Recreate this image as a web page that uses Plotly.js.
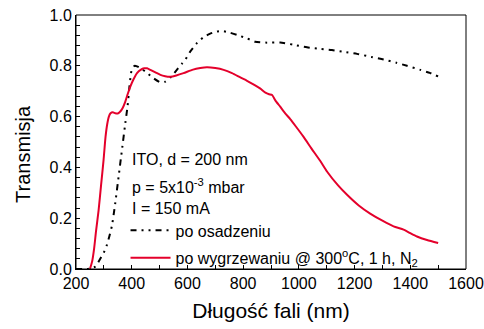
<!DOCTYPE html>
<html>
<head>
<meta charset="utf-8">
<script src="https://cdn.plot.ly/plotly-3.0.1.min.js"></script>
<style>
  html, body { margin: 0; padding: 0; background: #fff; }
  #chart { width: 484px; height: 329px; }
</style>
</head>
<body>
<div id="chart"></div>
<script>
// Transmission spectra of an ITO film (d = 200 nm)
const asDepWavelength = [200, 240, 255, 270, 287, 300, 311, 320, 329, 341, 353, 365, 377, 385, 392, 400, 410, 419, 437, 455, 480, 503, 521, 540, 562, 580, 592, 610, 634, 658, 680, 706, 724, 754, 790, 814, 843, 886, 933, 980, 1029, 1080, 1119, 1160, 1209, 1260, 1304, 1350, 1388, 1436, 1470, 1500];
const asDepTransmission = [0, 0, 0.003, 0.01, 0.04, 0.065, 0.095, 0.13, 0.17, 0.26, 0.364, 0.469, 0.574, 0.64, 0.72, 0.784, 0.80, 0.798, 0.787, 0.772, 0.75, 0.735, 0.738, 0.755, 0.784, 0.808, 0.823, 0.856, 0.889, 0.913, 0.926, 0.935, 0.937, 0.93, 0.917, 0.908, 0.895, 0.891, 0.892, 0.883, 0.873, 0.866, 0.862, 0.855, 0.847, 0.835, 0.825, 0.812, 0.80, 0.784, 0.772, 0.758];

const annealedWavelength = [250, 258, 265, 272, 281, 290, 299, 306, 312, 318, 324, 332, 341, 350, 359, 368, 377, 386, 395, 407, 419, 432, 445, 455, 467, 485, 503, 520, 539, 560, 586, 620, 646, 670, 700, 730, 760, 790, 814, 840, 862, 880, 893, 904, 915, 933, 951, 969, 990, 1017, 1045, 1077, 1101, 1140, 1173, 1215, 1256, 1300, 1340, 1376, 1400, 1424, 1460, 1500];
const annealedTransmission = [0, 0.03, 0.08, 0.15, 0.23, 0.33, 0.43, 0.52, 0.57, 0.60, 0.613, 0.617, 0.613, 0.612, 0.62, 0.635, 0.659, 0.69, 0.718, 0.748, 0.771, 0.784, 0.790, 0.790, 0.784, 0.774, 0.764, 0.759, 0.757, 0.762, 0.771, 0.785, 0.791, 0.794, 0.791, 0.784, 0.771, 0.754, 0.741, 0.725, 0.71, 0.694, 0.688, 0.685, 0.665, 0.639, 0.613, 0.59, 0.56, 0.52, 0.475, 0.425, 0.384, 0.33, 0.292, 0.25, 0.218, 0.19, 0.168, 0.155, 0.141, 0.128, 0.114, 0.102];

const seriesNames = ['po osadzeniu', 'po wygrzewaniu @ 300<sup>o</sup>C, 1 h, N<sub>2</sub>'];
const infoLines = ['ITO, d = 200 nm', 'p = 5x10<sup>-3</sup> mbar', 'I = 150 mA'];
// tick positions (every minor step) and their labels (blank between majors)
const xTickVals = [200, 300, 400, 500, 600, 700, 800, 900, 1000, 1100, 1200, 1300, 1400, 1500, 1600];
const xTickText = ['200', '', '400', '', '600', '', '800', '', '1000', '', '1200', '', '1400', '', '1600'];
const yTickVals = [0, 0.04, 0.08, 0.12, 0.16, 0.2, 0.24, 0.28, 0.32, 0.36, 0.4, 0.44, 0.48, 0.52, 0.56, 0.6, 0.64, 0.68, 0.72, 0.76, 0.8, 0.84, 0.88, 0.92, 0.96, 1.0];
const yTickText = ['0.0', '', '', '', '', '0.2', '', '', '', '', '0.4', '', '', '', '', '0.6', '', '', '', '', '0.8', '', '', '', '', '1.0'];

const FONT = 'Liberation Sans, Arial, sans-serif';

const traces = [
  {
    x: asDepWavelength, y: asDepTransmission, name: seriesNames[0],
    type: 'scatter', mode: 'lines', legendgroup: 'a',
    line: { color: '#000', width: 2, dash: '6px,5px,2px,5px,2px,5px', shape: 'spline', smoothing: 0.5 }
  },
  {
    x: annealedWavelength, y: annealedTransmission, name: seriesNames[1],
    type: 'scatter', mode: 'lines', legendgroup: 'b',
    line: { color: '#e4002b', width: 2, shape: 'spline', smoothing: 0.6 }
  }
];

const layout = {
  width: 484, height: 329,
  margin: { l: 76, r: 18, t: 15, b: 60 },
  paper_bgcolor: '#fff', plot_bgcolor: '#fff',
  font: { family: FONT, size: 16, color: '#000' },
  showlegend: true,
  legend: {
    x: 0.127, y: 0.097, xanchor: 'left', yanchor: 'middle',
    bgcolor: 'rgba(0,0,0,0)', borderwidth: 0,
    font: { family: FONT, size: 16, color: '#000' },
    traceorder: 'grouped', tracegroupgap: 3.6, itemwidth: 40
  },
  xaxis: {
    range: [200, 1600], tickmode: 'array', tickvals: xTickVals, ticktext: xTickText,
    showgrid: false, zeroline: false,
    showline: true, linecolor: 'black', linewidth: 1,
    ticks: 'inside', ticklen: 4, tickwidth: 1, tickcolor: 'black',
    tickfont: { family: FONT, size: 16, color: '#000' },
    title: { text: 'Długość fali (nm)', font: { family: FONT, size: 21, color: '#000' }, standoff: 12 }
  },
  yaxis: {
    range: [0, 1.0], tickmode: 'array', tickvals: yTickVals, ticktext: yTickText,
    showgrid: false, zeroline: false,
    showline: true, linecolor: 'black', linewidth: 1,
    ticks: 'inside', ticklen: 4, tickwidth: 1, tickcolor: 'black',
    tickfont: { family: FONT, size: 16, color: '#000' }
  },
  shapes: [
    { type: 'rect', xref: 'paper', yref: 'paper', x0: 0, x1: 1, y0: 0, y1: 1,
      line: { color: 'black', width: 1 }, fillcolor: 'rgba(0,0,0,0)', layer: 'above' }
  ],
  annotations: [
    {
      text: 'Transmisja', textangle: -90, xref: 'paper', yref: 'paper',
      x: -0.136, y: 0.453, xanchor: 'center', yanchor: 'middle', showarrow: false,
      font: { family: FONT, size: 20, color: '#000' }
    }
  ].concat(infoLines.map((t, i) => ({
    text: t, xref: 'paper', yref: 'paper',
    x: 0.139, y: [0.43, 0.325, 0.24][i], xanchor: 'left', yanchor: 'middle', showarrow: false,
    font: { family: FONT, size: 16, color: '#000' }
  })))
};

Plotly.newPlot('chart', traces, layout, { displayModeBar: false });
</script>
</body>
</html>
